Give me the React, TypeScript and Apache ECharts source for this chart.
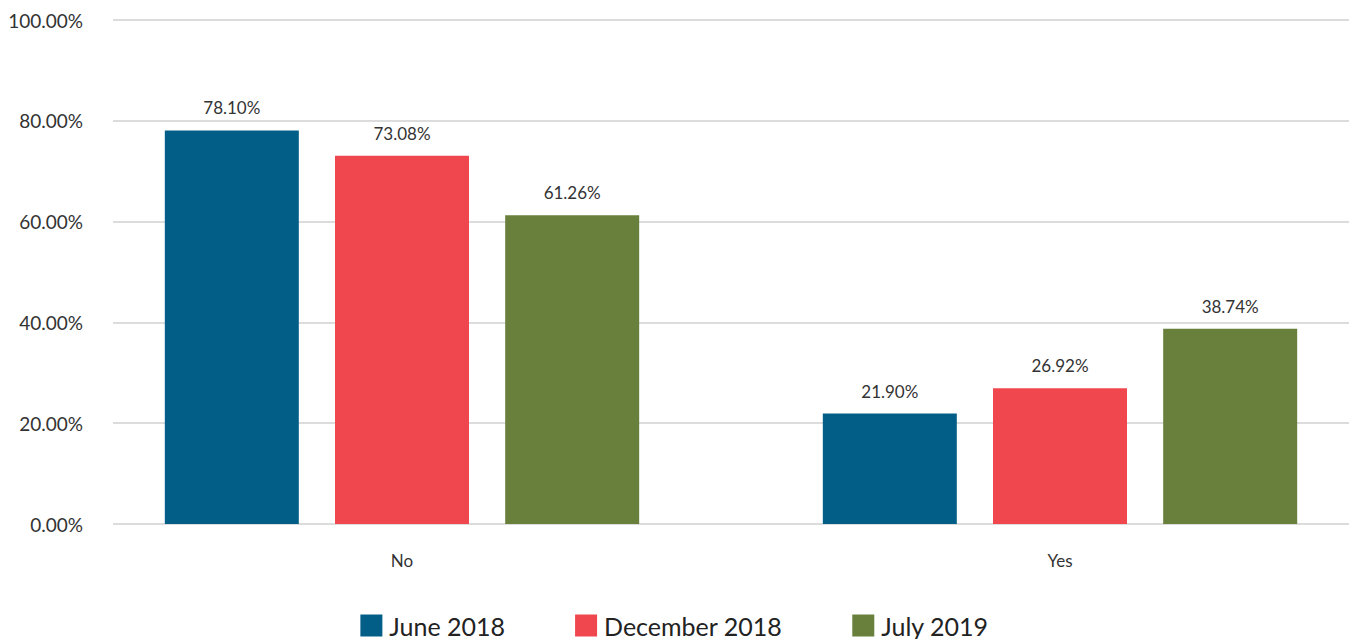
import React, { useEffect, useRef } from "react";
import * as echarts from "echarts";

const categories = ["No", "Yes"];
const seriesNames = ["June 2018", "December 2018", "July 2019"];
const june2018 = [78.1, 21.9];
const december2018 = [73.08, 26.92];
const july2019 = [61.26, 38.74];
const colors = ["#035E87", "#F0474F", "#68803B"];
const FONT = "Lato, 'Noto Sans', sans-serif";

export default function App() {
  const ref = useRef<HTMLDivElement>(null);
  useEffect(() => {
    if (!ref.current) return;
    const chart = echarts.init(ref.current, undefined, { renderer: "svg" });
    const values = [june2018, december2018, july2019];
    chart.setOption({
      animation: false,
      textStyle: { fontFamily: FONT },
      legend: {
        data: seriesNames,
        top: 613,
        left: "center",
        padding: 0,
        itemWidth: 22,
        itemHeight: 22,
        itemGap: 70,
        icon: "rect",
        textStyle: {
          fontSize: 25,
          color: "#222",
          fontFamily: FONT,
          padding: [0, 0, 0, 2],
        },
      },
      grid: [
        { left: 402, width: 658, top: 20, height: 504, containLabel: false },
        { left: 113, right: 0, top: 20, height: 504, containLabel: false },
      ],
      xAxis: [
        {
          type: "category",
          gridIndex: 0,
          data: categories,
          boundaryGap: false,
          axisLine: { show: false },
          axisTick: { show: false },
          axisLabel: { color: "#333", fontSize: 17, margin: 28, fontFamily: FONT },
        },
        {
          type: "category",
          gridIndex: 1,
          data: [""],
          axisLine: { show: false },
          axisTick: { show: false },
          axisLabel: { show: false },
        },
      ],
      yAxis: [
        {
          type: "value",
          gridIndex: 0,
          min: 0,
          max: 100,
          interval: 20,
          show: false,
        },
        {
          type: "value",
          gridIndex: 1,
          min: 0,
          max: 100,
          interval: 20,
          axisLine: { show: false },
          axisTick: { show: false },
          splitLine: { show: true, lineStyle: { color: "#dcdcdc", width: 2 } },
          axisLabel: {
            color: "#333",
            fontSize: 19,
            margin: 30,
            fontFamily: FONT,
            formatter: (v: number) => v.toFixed(2) + "%",
          },
        },
      ],
      series: seriesNames.map((name, i) => ({
        name,
        type: "bar",
        xAxisIndex: 0,
        yAxisIndex: 0,
        data: values[i],
        barWidth: 134,
        barGap: "27%",
        itemStyle: { color: colors[i] },
        label: {
          show: true,
          position: "top",
          distance: 14,
          color: "#333",
          fontSize: 17,
          fontFamily: FONT,
          formatter: (p: any) => p.value.toFixed(2) + "%",
        },
      })),
    });
    return () => chart.dispose();
  }, []);
  return (
    <div
      ref={ref}
      style={{ position: "absolute", left: 0, top: 0, width: 1349, height: 639 }}
    />
  );
}
